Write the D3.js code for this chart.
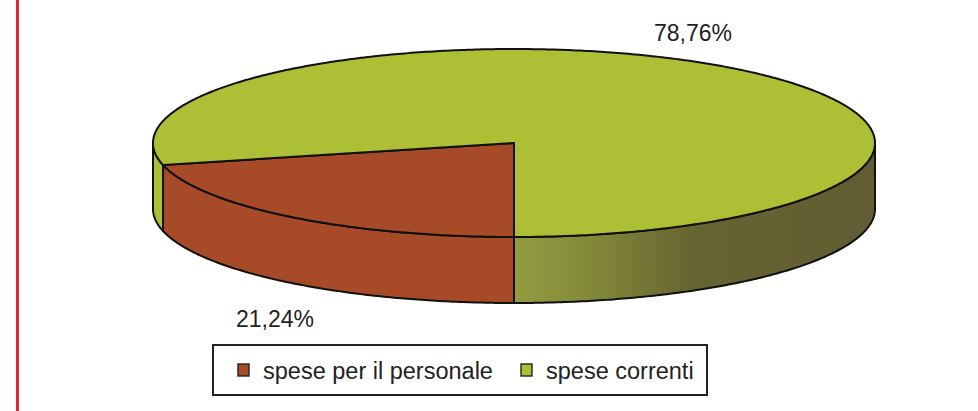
<!DOCTYPE html>
<html>
<head>
<meta charset="utf-8">
<script src="https://cdn.jsdelivr.net/npm/d3@7/dist/d3.min.js"></script>
<style>
  html, body { margin: 0; padding: 0; background: #fff; }
  svg { display: block; }
</style>
</head>
<body>
<svg id="chart" width="978" height="411"></svg>
<script>
// ---- data ----
const categories = ["spese per il personale", "spese correnti"];
const values = [21.24, 78.76];
const valueLabels = ["21,24%", "78,76%"];
const topColors = ["#a64a28", "#adbf34"];

// ---- layout ----
const W = 978, H = 411;
const cx = 514, cy = 143, rx = 361, ry = 94, depth = 66;
const svg = d3.select("#chart");

// red left rule
svg.append("rect").attr("x", 16).attr("y", 0).attr("width", 3).attr("height", H).attr("fill", "#d8282e");

const pie = d3.pie().sort(null).value(d => d).startAngle(Math.PI).endAngle(3 * Math.PI);
const arcs = pie(values);

// elliptical projection scales
const sx = d3.scaleLinear().domain([-1, 1]).range([cx - rx, cx + rx]);
const sy = d3.scaleLinear().domain([-1, 1]).range([cy - ry, cy + ry]);
const px = a => sx(Math.sin(a));
const py = a => sy(-Math.cos(a));

function arcPoints(a0, a1, dy) {
  const n = Math.max(2, Math.ceil(Math.abs(a1 - a0) / 0.01));
  const pts = [];
  for (let i = 0; i <= n; i++) {
    const a = a0 + (a1 - a0) * i / n;
    pts.push([px(a), py(a) + dy]);
  }
  return pts;
}
const line = d3.line();

// gradient for front-right green wall
const defs = svg.append("defs");
const grad = defs.append("linearGradient").attr("id", "gside")
  .attr("gradientUnits", "userSpaceOnUse")
  .attr("x1", cx).attr("x2", cx + rx).attr("y1", 0).attr("y2", 0);
grad.append("stop").attr("offset", "0%").attr("stop-color", "#929d40");
grad.append("stop").attr("offset", "25%").attr("stop-color", "#7f8538");
grad.append("stop").attr("offset", "50%").attr("stop-color", "#666432");
grad.append("stop").attr("offset", "100%").attr("stop-color", "#615c32");

// side walls: visible front range [PI/2, 3PI/2]
const frontLo = Math.PI / 2, frontHi = 3 * Math.PI / 2;
const sideG = svg.append("g");
arcs.forEach((d, i) => {
  [0, 2 * Math.PI].forEach(off => {
    const a0 = Math.max(d.startAngle - off, frontLo);
    const a1 = Math.min(d.endAngle - off, frontHi);
    if (a1 <= a0) return;
    const top = arcPoints(a0, a1, 0);
    const bot = arcPoints(a1, a0, depth);
    let fill = topColors[i];
    if (i === 1 && a0 < Math.PI) fill = "url(#gside)";
    sideG.append("path")
      .attr("d", line(top.concat(bot)) + "Z")
      .attr("fill", fill)
      .attr("stroke", "#111")
      .attr("stroke-width", 2)
      .attr("stroke-linejoin", "round");
  });
});

// top faces
const topG = svg.append("g");
arcs.forEach((d, i) => {
  const pts = [[cx, cy]].concat(arcPoints(d.startAngle, d.endAngle, 0));
  topG.append("path")
    .attr("d", line(pts) + "Z")
    .attr("fill", topColors[i])
    .attr("stroke", "#111")
    .attr("stroke-width", 2)
    .attr("stroke-linejoin", "round");
});

// value labels
const labelPos = [[275, 327], [693, 41]];
svg.selectAll("text.val").data(valueLabels).enter().append("text")
  .attr("class", "val")
  .attr("x", (d, i) => labelPos[i][0])
  .attr("y", (d, i) => labelPos[i][1])
  .attr("text-anchor", "middle")
  .attr("font-family", "Liberation Sans, Arial, sans-serif")
  .attr("font-size", 23)
  .attr("fill", "#222")
  .text(d => d);

// legend
const lg = svg.append("g");
lg.append("rect").attr("x", 213).attr("y", 345).attr("width", 494).attr("height", 50)
  .attr("fill", "#fff").attr("stroke", "#222").attr("stroke-width", 2);
const legX = [238, 521];
categories.forEach((c, i) => {
  lg.append("rect").attr("x", legX[i]).attr("y", 364).attr("width", 11).attr("height", 12)
    .attr("fill", topColors[i]).attr("stroke", "#222").attr("stroke-width", 1.4);
  lg.append("text").attr("x", legX[i] + 25).attr("y", 379)
    .attr("font-family", "Liberation Sans, Arial, sans-serif")
    .attr("font-size", 23.5).attr("fill", "#222").text(c);
});
</script>
</body>
</html>
